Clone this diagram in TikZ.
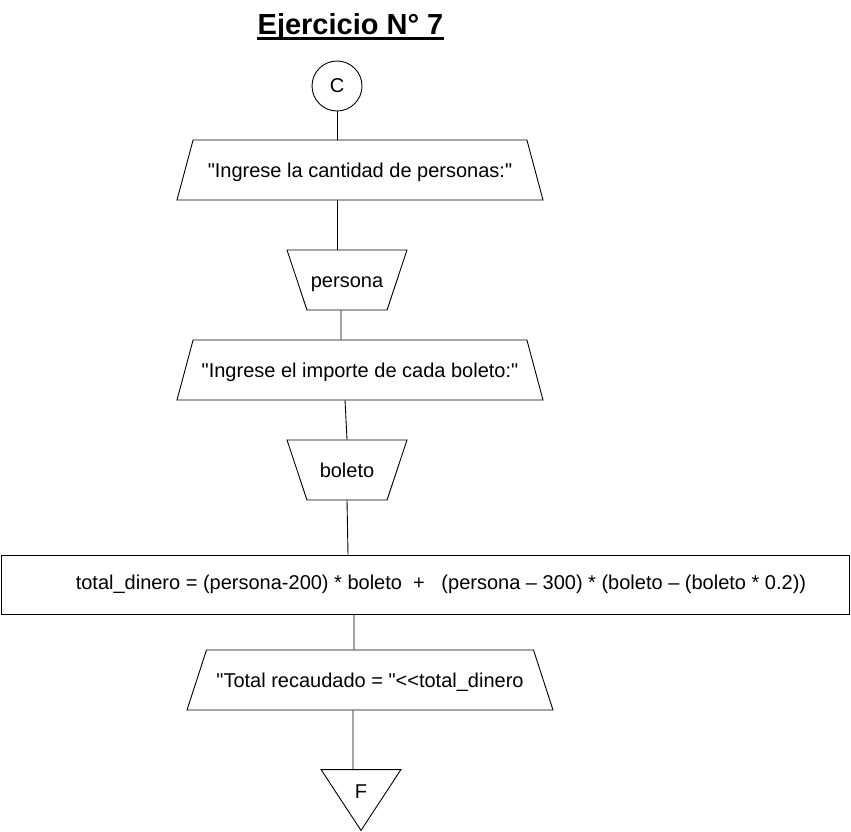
\documentclass[tikz,border=0pt]{standalone}
\usepackage{fontspec}
\setmainfont{Liberation Sans}[Ligatures=TeXOff]
\usetikzlibrary{shapes.geometric,calc}
\tikzstyle{Start} = [circle, draw=black, minimum size=50pt, inner sep=0pt]
\tikzstyle{Output} = [trapezium, draw=black, trapezium left angle=75, trapezium right angle=75, trapezium stretches body=true, minimum width=366pt, text height=16pt, text depth=2pt, inner xsep=0pt, inner ysep=21pt]
\tikzstyle{Input} = [trapezium, draw=black, shape border rotate=180, trapezium left angle=71.6, trapezium right angle=71.6, trapezium stretches body=true, minimum width=120pt, text height=16pt, text depth=2pt, inner xsep=0pt, inner ysep=21pt]
\tikzstyle{Box} = [rectangle, draw=black, minimum width=848pt, minimum height=59pt, inner sep=0pt]
\tikzstyle{End} = [minimum width=79pt, minimum height=60pt, inner sep=0pt]
\tikzstyle{line} = [line width=0.9pt]

\begin{document}
\begin{tikzpicture}[x=1pt, y=-1pt, line width=0.9pt, font=\fontsize{20}{24}\selectfont]
\useasboundingbox (0,0) rectangle (851,831);
\node (Title)[anchor=base, inner sep=0pt, font=\fontsize{29}{34}\selectfont\bfseries] at (350.5,34) {Ejercicio N° 7};
\draw[line width=3pt] ([yshift=-4pt]Title.base west) -- ([yshift=-4pt]Title.base east);
\node (Begin)[Start] at (337,86) {C};
\node (Prompt1)[Output] at (360,170) {"Ingrese la cantidad de personas:"};
\node (Persona)[Input] at (347,280) {persona};
\node (Prompt2)[Output] at (360,370) {"Ingrese el importe de cada boleto:"};
\node (Boleto)[Input] at (347,470) {boleto};
\node (Total)[Box] at (425,584.5) {\hspace{32pt}total\_dinero = (persona-200) * boleto\ \ +\ \ \ (persona – 300) * (boleto – (boleto * 0.2))};
\node (Result)[Output, trapezium left angle=72, trapezium right angle=72] at (370,680) {"Total recaudado = "<<total\_dinero};
\node (Finish)[End] at (361,800) {};
\node (Finish label) at (361,792) {F};
\draw (Finish.north west) -- (Finish.north east) -- (Finish.south) -- cycle;

\draw[line](Begin.south)--(Begin.south |- Prompt1.north);
\draw[line](Prompt1.south -| Begin.south)--(Persona.north -| Begin.south);
\draw[line]([xshift=-6pt]Persona.south)--([xshift=-19pt]Prompt2.north);
\draw[line]([xshift=-15pt]Prompt2.south)--(Boleto.north);
\draw[line](Boleto.south)--([xshift=1pt]Boleto.south |- Total.north);
\draw[line]([xshift=-71pt]Total.south)--([xshift=-16pt]Result.north);
\draw[line]([xshift=-17pt]Result.south)--([xshift=-8pt]Finish.north);

\end{tikzpicture}
\end{document}
